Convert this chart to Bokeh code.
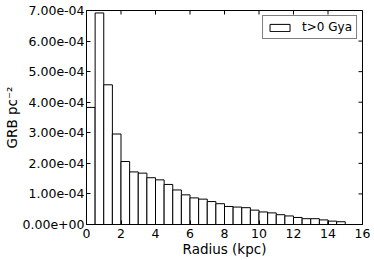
import math
from bokeh.plotting import figure
from bokeh.models import (ColumnDataSource, LinearAxis, FixedTicker, CustomJSTickFormatter,
                          Range1d, Legend, LegendItem)
from bokeh.embed import file_html
from bokeh.resources import INLINE

# Data: GRB surface density per radial bin (units of 1e-4 GRB pc^-2)
bin_width = 0.5
bin_start = [0.0, 0.5, 1.0, 1.5, 2.0, 2.5, 3.0, 3.5, 4.0, 4.5,
             5.0, 5.5, 6.0, 6.5, 7.0, 7.5, 8.0, 8.5, 9.0, 9.5,
             10.0, 10.5, 11.0, 11.5, 12.0, 12.5, 13.0, 13.5, 14.0, 14.5]
density_e4 = [3.83, 6.92, 4.57, 2.96, 2.06, 1.72, 1.68, 1.53, 1.46, 1.31,
              1.13, 0.97, 0.87, 0.83, 0.75, 0.68, 0.59, 0.57, 0.55, 0.47,
              0.41, 0.38, 0.32, 0.28, 0.23, 0.19, 0.19, 0.15, 0.11, 0.09]
x_ticks = [0, 2, 4, 6, 8, 10, 12, 14, 16]
y_ticks_e4 = [0, 1, 2, 3, 4, 5, 6, 7]
legend_label = "t>0 Gya"
x_max = 16
y_max_e4 = 7

FONT = "DejaVu Sans"

src = ColumnDataSource(dict(
    left=bin_start,
    right=[b + bin_width for b in bin_start],
    top=[v * 1e-4 for v in density_e4],
    bottom=[0.0] * len(bin_start),
))

p = figure(width=374, height=260, output_backend="svg", toolbar_location=None,
           x_range=Range1d(0, x_max), y_range=Range1d(0, y_max_e4 * 1e-4),
           min_border_left=86, min_border_right=12, min_border_top=10, min_border_bottom=36)
p.xaxis.visible = False
p.yaxis.visible = False
p.grid.visible = False
p.outline_line_color = "black"
p.outline_line_width = 1
p.background_fill_color = "white"
p.border_fill_color = "white"

r = p.quad(left="left", right="right", top="top", bottom="bottom", source=src,
           fill_color="white", line_color="black", line_width=1)

# inward ticks on top and right edges (mirroring matplotlib's classic style)
p.ray(x=x_ticks, y=[y_max_e4 * 1e-4] * len(x_ticks), length=4, length_units="screen",
      angle=-math.pi / 2, line_color="black", line_width=1)
p.ray(x=[x_max] * len(y_ticks_e4), y=[v * 1e-4 for v in y_ticks_e4], length=4,
      length_units="screen", angle=math.pi, line_color="black", line_width=1)

yfmt = CustomJSTickFormatter(code="""
var s = tick.toExponential(2);
var parts = s.split('e');
var e = parseInt(parts[1]);
var a = Math.abs(e);
return parts[0] + 'e' + (e < 0 ? '-' : '+') + (a < 10 ? '0' : '') + a;
""")

def style(ax):
    ax.major_tick_in = 4
    ax.major_tick_out = 0
    ax.minor_tick_in = 0
    ax.minor_tick_out = 0
    ax.axis_line_color = "black"
    ax.major_tick_line_color = "black"
    ax.major_label_text_font = FONT
    ax.major_label_text_font_size = "12.5px"
    ax.major_label_text_color = "black"
    ax.major_label_standoff = 3
    ax.axis_label_text_font = FONT
    ax.axis_label_text_font_size = "13.5px"
    ax.axis_label_text_font_style = "normal"
    ax.axis_label_text_color = "black"
    ax.axis_label_standoff = 0

xb = LinearAxis(ticker=FixedTicker(ticks=x_ticks), axis_label="Radius (kpc)")
style(xb)
xb.major_label_standoff = 4
p.add_layout(xb, "below")

yl = LinearAxis(ticker=FixedTicker(ticks=[v * 1e-4 for v in y_ticks_e4]), formatter=yfmt,
                axis_label="GRB pc⁻²")
style(yl)
yl.major_label_standoff = 2
p.add_layout(yl, "left")

leg = Legend(items=[LegendItem(label=legend_label, renderers=[r])], location="top_right")
leg.label_text_font = FONT
leg.label_text_font_size = "12px"
leg.label_text_color = "black"
leg.border_line_color = "black"
leg.border_line_width = 1
leg.background_fill_color = "white"
leg.background_fill_alpha = 1
leg.glyph_width = 25
leg.glyph_height = 9
leg.label_height = 12
leg.label_standoff = 10
leg.padding = 4
leg.margin = 5
leg.spacing = 0
p.add_layout(leg)

open("out.html", "w").write(file_html(p, INLINE))
